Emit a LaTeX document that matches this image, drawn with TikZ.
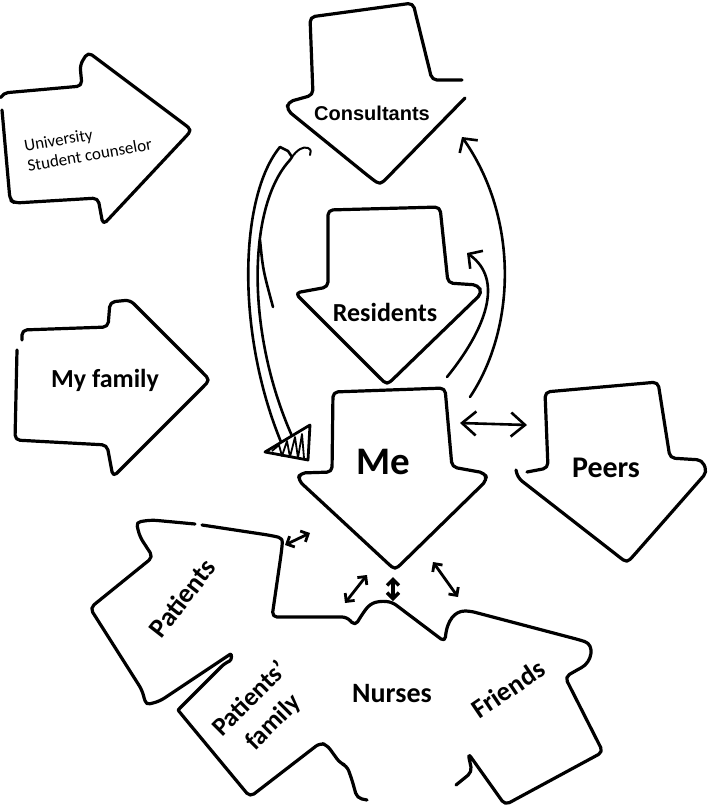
\documentclass[tikz,border=0pt]{standalone}
\usepackage{fontspec}
\newfontfamily\carl{Carlito}
\newfontfamily\arl{Liberation Sans}
\usetikzlibrary{arrows.meta}
\begin{document}
\begin{tikzpicture}[x=1pt,y=-1pt,
  outline/.style={line width=3.2pt, line join=round, line cap=round, rounded corners=5pt},
  conn/.style={line width=2.6pt, line cap=round},
  barb/.style={conn, -{Straight Barb[length=10pt,width=22pt]}},
  dbl/.style={line width=2.8pt, line cap=round, {Straight Barb[length=6pt,width=12pt]}-{Straight Barb[length=6pt,width=12pt]}},
  lbl/.style={font=\carl\bfseries\fontsize{26}{30}\selectfont, inner sep=0pt},
]
\useasboundingbox (0,0) rectangle (709,807);
% University Student counselor
\draw[outline] (2,110) -- (10,200) -- (15,203) -- (98,198) -- (103,225) -- (181,141.7) .. controls (192,130) .. (179.2,120.4) -- (88,52) -- (80,65) -- (82,86) -- (3,93) -- (1,97);
\node[inner sep=0pt, rotate=10, align=left, font=\carl\fontsize{17}{20}\selectfont] (uni) at (88,145) {University\\Student counselor};
% Consultants
\draw[outline] (462,80) -- (432,80) -- (413,3) -- (310,17) -- (313,95) -- (288,102) -- (287,110) -- (367.3,175.2) .. controls (380,185) .. (391.2,173.6) -- (465,98);
\node[inner sep=0pt, font=\arl\bfseries\fontsize{20}{24}\selectfont] (cons) at (372,113) {Consultants};
% Residents
\draw[outline] (478,285) -- (448,283) -- (440,207) -- (328,210) -- (328,287) -- (295,293) -- (375.7,373.7) .. controls (387,385) .. (398.5,373.8) -- (482,293) -- cycle;
\node[lbl] (res) at (385,312) {Residents};
% Me
\draw[outline] (333,392) -- (445,388) -- (452,467) -- (485,473) -- (487,480) -- (406.4,558.8) .. controls (395,570) .. (383.3,559.1) -- (298,480) -- (300,473) -- (332,472) -- cycle;
\node[lbl, font=\carl\bfseries\fontsize{39}{44}\selectfont] (me) at (383,462) {Me};
% Peers
\draw[outline] (527,472) -- (548,468) -- (545,392) -- (658,382) -- (670,458) -- (702,460) -- (707,472) -- (637.6,551) .. controls (627,563) .. (614.4,553.1) -- (518,478) -- (516,470);
\node[lbl, font=\carl\bfseries\fontsize{30}{34}\selectfont] (peers) at (606,468) {Peers};
% My family
\draw[outline] (22,340) -- (22,330) -- (108,327) -- (110,302) -- (130,300) -- (198.7,368.7) .. controls (210,380) .. (198.7,391.3) -- (113,477) -- (107,445) -- (15,440) -- (17,350);
\node[lbl] (fam) at (105,380) {My family};
% Bottom cluster: Patients, Patients' family, Nurses, Friends
\draw[outline] (202,525) -- (268,535) .. controls (283,538) .. (281,555) -- (272,617) -- (347,617) -- (355,626) -- (363,613) -- (370,604) -- (380,601) -- (392,602) -- (445,642) .. controls (447,620) and (455,611) .. (470,611) -- (580,640) .. controls (595,645) and (592,662) .. (577,670) -- (565,677) -- (603,752) -- (505,805) -- (468,753) -- (472,772) -- (456,785);
\draw[outline] (195,524) -- (152,520) .. controls (136,522) .. (140,537) -- (153,557) -- (90,608) -- (142,690) .. controls (146,705) .. (160,701) -- (226,657) .. controls (232,653) and (232,660) .. (225,663) -- (183,705) .. controls (178,710) .. (182,715) -- (250,797) -- (320,743) -- (327,745) -- (340,763) -- (347,766) -- (352,780) -- (357,798) -- (367,800);
\node[lbl, rotate=52, font=\carl\bfseries\fontsize{27}{30}\selectfont] (pat) at (182,598) {Patients};
\node[lbl, rotate=45, align=center, font=\carl\bfseries\fontsize{26}{33}\selectfont] (pfam) at (262,711) {Patients’\\family};
\node[lbl, font=\carl\bfseries\fontsize{28}{30}\selectfont] (nur) at (392,694) {Nurses};
\node[lbl, rotate=34, font=\carl\bfseries\fontsize{27}{30}\selectfont] (fri) at (508,689) {Friends};
% Connector end points
\coordinate (cTopO) at (280,147);
\coordinate (cTopI) at (290,160);
\coordinate (meHeadO) at (281,442);
\coordinate (meHeadI) at (292,436);
\coordinate (meTR) at (470,397);
\coordinate (consR) at (462,137);
\coordinate (meTR2) at (447,377);
\coordinate (resR) at (467,253);
\coordinate (meR) at (460,423);
\coordinate (peersL) at (527,425);
% Consultants -> Me double-line arrow
\draw[conn] (cTopO) .. controls (240,195) and (235,330) .. (meHeadO);
\draw[conn] (cTopI) .. controls (248,205) and (245,330) .. (meHeadI);
\draw[conn] (260,240) .. controls (263,270) .. (273,307);
\draw[conn, line join=round] (cTopO) -- (288,151) -- (292,157) -- (cTopI);
\draw[conn, line width=2pt] (292,157) .. controls (297,150) and (303,146) .. (308,148) .. controls (311,150) .. (310,155);
\filldraw[fill=white, line width=2.8pt, line join=round] (265,452) -- (310,425) -- (308,460) -- cycle;
\draw[line width=1.8pt, line join=round] (272,451) -- (279,445) -- (282,456) -- (287,441) -- (290,457) -- (295,437) -- (298,458) -- (302,434) -- (304,458);
% Me -> Consultants, Me -> Residents
\draw[barb] (meTR) .. controls (515,330) and (520,220) .. (consR);
\draw[barb] (meTR2) .. controls (485,330) and (505,280) .. (resR);
% Me <-> Peers
\draw[conn, {Straight Barb[length=14pt,width=24pt]}-{Straight Barb[length=14pt,width=24pt]}] (meR) -- (peersL);
% small double arrows
\coordinate (a1s) at (285,545); \coordinate (a1e) at (310,533);
\coordinate (a2s) at (345,603); \coordinate (a2e) at (367,575);
\coordinate (a3s) at (393,601); \coordinate (a3e) at (393,577);
\coordinate (a4s) at (433,562); \coordinate (a4e) at (458,597);
\draw[dbl] (a1s) -- (a1e);
\draw[dbl] (a2s) -- (a2e);
\draw[dbl, line width=3.4pt] (a3s) -- (a3e);
\draw[dbl] (a4s) -- (a4e);
\end{tikzpicture}
\end{document}
